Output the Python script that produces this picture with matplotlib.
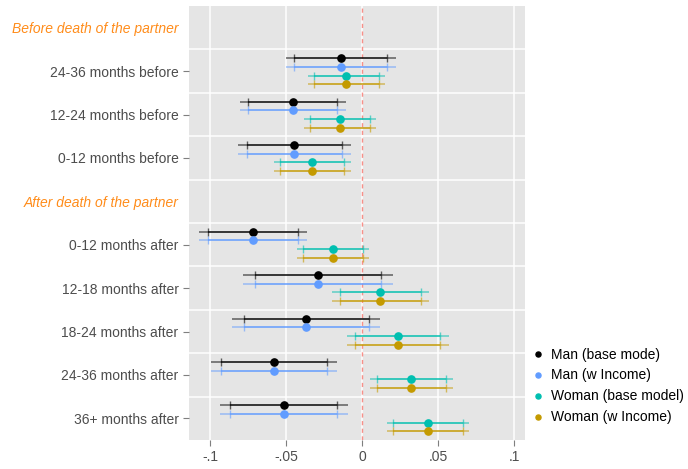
import matplotlib
matplotlib.use('Agg')
from matplotlib import pyplot as plt
import numpy as np

# row labels, top to bottom; rows 0 and 4 are section headings
row_labels = ['Before death of the partner', '24-36 months before', '12-24 months before',
              '0-12 months before', 'After death of the partner', '0-12 months after',
              '12-18 months after', '18-24 months after', '24-36 months after', '36+ months after']
section_rows = [0, 4]
data_rows = [1, 2, 3, 5, 6, 7, 8, 9]

# men: estimate, 95% bounds, 90% bounds
man_est = [-0.0142, -0.0458, -0.0447, -0.0721, -0.0293, -0.0370, -0.0579, -0.0515]
man_lo95 = [-0.0504, -0.0805, -0.0816, -0.1072, -0.0785, -0.0857, -0.0995, -0.0938]
man_hi95 = [0.0222, -0.0109, -0.0076, -0.0366, 0.0202, 0.0118, -0.0164, -0.0096]
man_lo90 = [-0.0447, -0.0750, -0.0759, -0.1017, -0.0708, -0.0780, -0.0928, -0.0870]
man_hi90 = [0.0163, -0.0166, -0.0136, -0.0421, 0.0123, 0.0042, -0.0230, -0.0164]

# women
woman_est = [-0.0107, -0.0147, -0.0331, -0.0195, 0.0118, 0.0233, 0.0320, 0.0434]
woman_lo95 = [-0.0359, -0.0382, -0.0579, -0.0430, -0.0199, -0.0101, 0.0053, 0.0164]
woman_hi95 = [0.0149, 0.0088, -0.0076, 0.0046, 0.0437, 0.0568, 0.0595, 0.0704]
woman_lo90 = [-0.0320, -0.0344, -0.0541, -0.0392, -0.0147, -0.0048, 0.0095, 0.0204]
woman_hi90 = [0.0110, 0.0053, -0.0118, 0.0007, 0.0386, 0.0513, 0.0551, 0.0660]

series = [
    ('Man (base mode)', '#000000', man_est, man_lo95, man_hi95, man_lo90, man_hi90),
    ('Man (w Income)', '#619CFF', man_est, man_lo95, man_hi95, man_lo90, man_hi90),
    ('Woman (base model)', '#00BFB0', woman_est, woman_lo95, woman_hi95, woman_lo90, woman_hi90),
    ('Woman (w Income)', '#C49A00', woman_est, woman_lo95, woman_hi95, woman_lo90, woman_hi90),
]
offsets = [-0.3, -0.1, 0.1, 0.3]

plt.rcParams['font.family'] = ['Liberation Sans', 'DejaVu Sans']
fig = plt.figure(figsize=(6.88, 4.69), dpi=100)
ax = fig.add_axes([0.2747, 0.0618, 0.4884, 0.9252])
ax.set_facecolor('#E5E5E5')
for s in ax.spines.values():
    s.set_visible(False)

xt = [-0.1, -0.05, 0, 0.05, 0.1]
for v in xt:
    ax.axvline(v, color='white', lw=1.1, zorder=0)
for b in np.arange(0.5, 9, 1):
    ax.axhline(b, color='white', lw=1.1, zorder=0)
ax.axvline(0, color='#F8766D', lw=1.0, ls=(0, (3, 2.5)), alpha=0.8, zorder=1)

handles = []
for (name, col, est, lo95, hi95, lo90, hi90), off in zip(series, offsets):
    y = np.array(data_rows) + off
    est = np.array(est)
    ax.errorbar(est, y, xerr=[est - np.array(lo95), np.array(hi95) - est], fmt='none',
                ecolor=col, elinewidth=1.3, alpha=0.5, capsize=0, zorder=2)
    ax.errorbar(est, y, xerr=[est - np.array(lo90), np.array(hi90) - est], fmt='none',
                ecolor=col, elinewidth=1.3, alpha=0.6, capsize=3.2, capthick=1.0, zorder=3)
    h, = ax.plot(est, y, 'o', color=col, ms=5.2, ls='none', zorder=4, label=name)
    handles.append(h)

ax.set_xlim(-0.114, 0.107)
ax.set_ylim(9.5, -0.5)
ax.set_xticks(xt)
ax.set_xticklabels(['-.1', '-.05', '0', '.05', '.1'])
ax.set_yticks(range(len(row_labels)))
ax.set_yticklabels(row_labels)
ax.tick_params(axis='both', colors='#7F7F7F', labelcolor='#4D4D4D', labelsize=10, length=4, width=0.8)
for i, t in enumerate(ax.yaxis.get_major_ticks()):
    if i in section_rows:
        t.tick1line.set_visible(False)
        t.label1.set_color('#FF8C1A')
        t.label1.set_fontstyle('italic')

fig.legend(handles=handles, loc='upper left', bbox_to_anchor=(0.774, 0.259), frameon=False,
           fontsize=10, borderpad=0, borderaxespad=0, handletextpad=0.5, labelspacing=0.5,
           markerscale=0.7, handlelength=0.8)

plt.savefig('out.png', dpi=100)
